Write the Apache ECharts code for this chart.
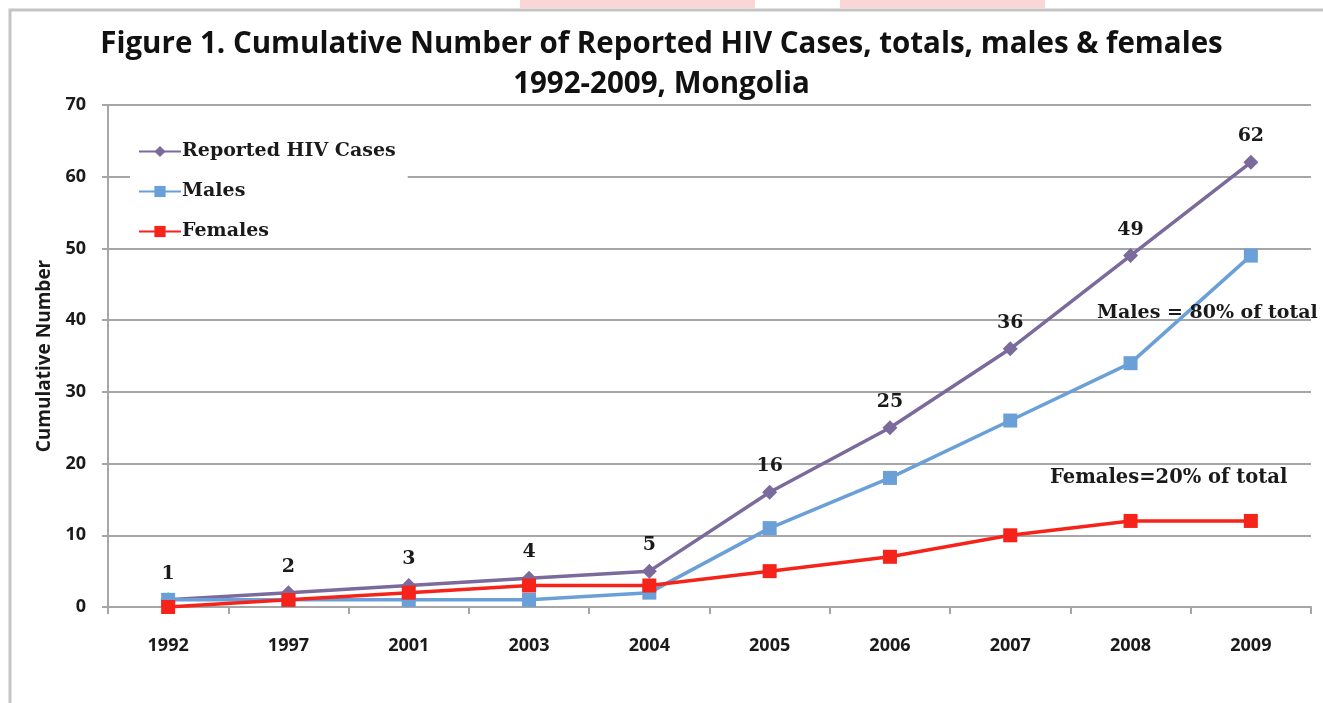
<!DOCTYPE html>
<html>
<head>
<meta charset="utf-8">
<script src="https://cdn.jsdelivr.net/npm/echarts@6/dist/echarts.min.js"></script>
<style>
html,body{margin:0;padding:0;background:#fff;}
#chart{width:1323px;height:703px;}
</style>
</head>
<body>
<div id="chart"></div>
<script>
const years = ['1992','1997','2001','2003','2004','2005','2006','2007','2008','2009'];
const totalCases = [1,2,3,4,5,16,25,36,49,62];
const maleCases = [1,1,1,1,2,11,18,26,34,49];
const femaleCases = [0,1,2,3,3,5,7,10,12,12];
const yTicks = [0,10,20,30,40,50,60,70];

const chart = echarts.init(document.getElementById('chart'));
const serif = '"DejaVu Serif", "Liberation Serif", serif';
const sans = '"Open Sans", "Noto Sans", sans-serif';
const gray = '#a6a6a6';

chart.setOption({
  animation: false,
  backgroundColor: '#fff',
  title: {
    text: 'Figure 1. Cumulative Number of Reported HIV Cases, totals, males & females\n1992-2009, Mongolia',
    left: 'center',
    top: 20,
    textStyle: { fontFamily: sans, fontWeight: 'bold', fontSize: 29.5, lineHeight: 40, color: '#111' }
  },
  grid: { left: 108, top: 105, width: 1203, height: 502 },
  legend: {
    orient: 'vertical',
    left: 130,
    top: 136,
    itemGap: 21,
    itemWidth: 42,
    itemHeight: 14,
    backgroundColor: '#fff',
    padding: [6, 12, 4, 8],
    textStyle: { fontFamily: serif, fontWeight: 'bold', fontSize: 19, color: '#1a1a1a', padding: [0,0,0,-4] },
    data: ['Reported HIV Cases', 'Males', 'Females']
  },
  xAxis: {
    type: 'category',
    data: years,
    boundaryGap: true,
    axisLine: { lineStyle: { color: gray, width: 2 } },
    axisTick: { show: true, length: 7, lineStyle: { color: gray, width: 2 } },
    axisLabel: { fontFamily: sans, fontWeight: 'bold', fontSize: 18, color: '#1a1a1a', margin: 30 }
  },
  yAxis: {
    type: 'value',
    min: 0, max: 70, interval: 10,
    name: 'Cumulative Number',
    nameLocation: 'middle',
    nameGap: 54,
    nameTextStyle: { fontFamily: sans, fontWeight: 'bold', fontSize: 19, color: '#1a1a1a' },
    axisLine: { show: true, lineStyle: { color: gray, width: 2 } },
    axisTick: { show: true, length: 6, lineStyle: { color: gray, width: 2 } },
    axisLabel: { fontFamily: sans, fontWeight: 'bold', fontSize: 18, color: '#1a1a1a', margin: 22,
      formatter: v => yTicks.includes(v) ? String(v) : '' },
    splitLine: { show: true, lineStyle: { color: gray, width: 2 } }
  },
  series: [
    {
      name: 'Reported HIV Cases',
      type: 'line',
      data: totalCases,
      symbol: 'diamond',
      symbolSize: 15,
      lineStyle: { color: '#7b6a9c', width: 3.5 },
      itemStyle: { color: '#7b6a9c' },
      label: { show: true, position: 'top', distance: 9, fontFamily: serif, fontWeight: 'bold', fontSize: 19, color: '#1a1a1a' },
      z: 2
    },
    {
      name: 'Males',
      type: 'line',
      data: maleCases,
      symbol: 'rect',
      symbolSize: 14,
      lineStyle: { color: '#6a9fd8', width: 3.5 },
      itemStyle: { color: '#6a9fd8' },
      z: 3
    },
    {
      name: 'Females',
      type: 'line',
      data: femaleCases,
      symbol: 'rect',
      symbolSize: 14,
      lineStyle: { color: '#f5231a', width: 3.5 },
      itemStyle: { color: '#f5231a' },
      z: 4
    }
  ],
  graphic: [
    { type: 'rect', z: -10, shape: { x: 10, y: 10, width: 1330, height: 720 }, style: { fill: 'none', stroke: '#c4c4c4', lineWidth: 3 } },
    { type: 'rect', z: -10, shape: { x: 520, y: 0, width: 235, height: 8 }, style: { fill: '#fbd6d6' } },
    { type: 'rect', z: -10, shape: { x: 840, y: 0, width: 205, height: 8 }, style: { fill: '#fbd6d6' } },
    { type: 'text', z: 10, left: 1097, top: 304, style: { text: 'Males = 80% of total', fontFamily: serif, fontWeight: 'bold', fontSize: 19, fill: '#1a1a1a' } },
    { type: 'text', z: 10, left: 1050, top: 468, style: { text: 'Females=20% of total', fontFamily: serif, fontWeight: 'bold', fontSize: 19.5, fill: '#1a1a1a' } }
  ]
});
</script>
</body>
</html>
